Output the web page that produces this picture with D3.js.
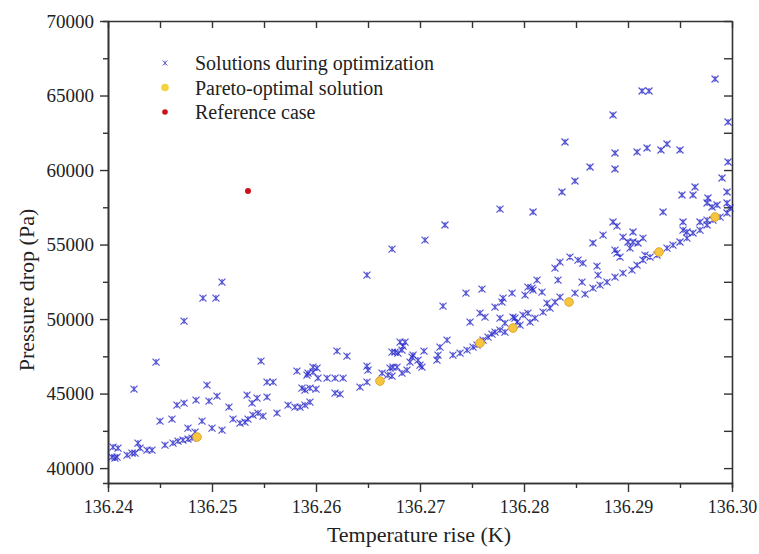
<!DOCTYPE html>
<html>
<head>
<meta charset="utf-8">
<script src="https://cdn.jsdelivr.net/npm/d3@7"></script>
<style>
  body { margin: 0; background: #fff; }
  svg text { font-family: "Liberation Serif", "Times New Roman", serif; fill: #222; }
</style>
</head>
<body>
<div id="chart"></div>
<script>
// Solutions during optimization (temperature rise K, pressure drop Pa)
const solTemp = [
  136.24038, 136.24067, 136.24087, 136.24048, 136.24096, 136.24183, 136.24231, 136.24260, 136.24288, 136.24308,
  136.24375, 136.24423, 136.24548, 136.24625, 136.24673, 136.24721, 136.24769, 136.24808,
  136.24250, 136.24462, 136.24731, 136.24913, 136.25038, 136.25096, 136.25471, 136.24952, 136.24500, 136.24615,
  136.24663, 136.24731, 136.24846, 136.24971, 136.25048, 136.24769, 136.24837, 136.24904, 136.25000, 136.25096,
  136.25163, 136.25202, 136.25269, 136.25317, 136.25346, 136.25337, 136.25385, 136.25433, 136.25529, 136.25529,
  136.25587, 136.25394, 136.25442, 136.25490, 136.25625, 136.25731, 136.25798, 136.25846, 136.25894, 136.25942,
  136.25894, 136.25942, 136.26000, 136.25817, 136.25923, 136.25971, 136.26010, 136.26019, 136.26106, 136.26183,
  136.26260, 136.26183, 136.26231, 136.25865, 136.26423, 136.26490, 136.26202, 136.26298, 136.26490, 136.26500,
  136.25913, 136.25971,
  136.26490, 136.26731, 136.27048, 136.27240, 136.26635, 136.26692, 136.26712, 136.26740, 136.26731, 136.26779,
  136.26827, 136.26875, 136.26731, 136.26760, 136.26788, 136.26808, 136.26837, 136.26827, 136.26856, 136.26923,
  136.26933, 136.26981, 136.26904, 136.27000, 136.27019, 136.27038, 136.27173, 136.27163, 136.27192, 136.27260,
  136.27221, 136.27317, 136.27385, 136.27452, 136.27510, 136.27548,
  136.27442, 136.27596, 136.27577, 136.27625, 136.27481, 136.27721, 136.27798, 136.27885, 136.27769, 136.27788,
  136.27894, 136.27933, 136.27606, 136.27654, 136.27692, 136.27721, 136.27769, 136.27817, 136.27913, 136.28010,
  136.28077, 136.28125, 136.28173, 136.28038, 136.28087, 136.28038, 136.28106, 136.27990, 136.28058, 136.28183,
  136.28221, 136.28250, 136.28298, 136.28346, 136.27817, 136.27962,
  136.29837, 136.29135, 136.29202, 136.28856, 136.28394, 136.28875, 136.29087, 136.29183, 136.29317, 136.29375,
  136.29500, 136.29962, 136.29962, 136.28635, 136.28875, 136.28490, 136.28365, 136.27769, 136.28087, 136.29337,
  136.29519, 136.29625, 136.29644, 136.29904, 136.29952, 136.29769, 136.29760, 136.29808, 136.29856, 136.29952,
  136.28856, 136.28894, 136.28760, 136.29048, 136.28952, 136.29000, 136.29048, 136.29096, 136.29144, 136.29019,
  136.29529, 136.29529, 136.29567, 136.29692, 136.29760, 136.28663, 136.28875, 136.28923, 136.28442, 136.28346,
  136.28298, 136.28519, 136.28567, 136.28702, 136.28712, 136.28327, 136.28558, 136.28894, 136.29163, 136.29212,
  136.28490, 136.28587,
  136.28663, 136.28731, 136.28798, 136.28875, 136.28952, 136.29038, 136.29087, 136.29144, 136.29279, 136.29375,
  136.29433, 136.29500, 136.29567, 136.29625, 136.29692, 136.29760, 136.29817, 136.29885, 136.29952, 136.29981
];
const solDp = [
  40740, 40673, 40740, 41411, 41344, 40874, 41008, 41008, 41680, 41344,
  41210, 41210, 41545, 41680, 41814, 41881, 41948, 42015,
  45304, 47115, 49867, 51411, 51411, 52484, 47183, 45572, 43156, 43290,
  44230, 44364, 44565, 44498, 44834, 42686, 42418, 43156, 42686, 42552,
  44096, 43290, 43022, 43089, 43290, 44901, 44364, 44700, 44767, 45773,
  45773, 43559, 43693, 43492, 43693, 44230, 44096, 44096, 44230, 44431,
  45236, 45371, 45304, 46511, 46377, 46780, 46713, 46042, 46042, 46042,
  46042, 45035, 44968, 45371, 45438, 45773, 47854, 47518, 46847, 46579,
  46243, 46444,
  52954, 54699, 55303, 56310, 46377, 46243, 46713, 46780, 46176, 46780,
  46377, 46579, 47787, 47787, 47719, 48458, 48189, 47921, 48458, 47451,
  47585, 47250, 47115, 46914, 46780, 47854, 47585, 47250, 48122, 48592,
  50874, 47585, 47719, 47921, 48122, 48256,
  51746, 52015, 50404, 50135, 49800, 50807, 51411, 51746, 50068, 51142,
  50135, 49800, 48592, 48793, 48995, 49129, 49263, 49129, 50068, 51612,
  52082, 52619, 51813, 52149, 51947, 50404, 50068, 50270, 49800, 50471,
  51075, 50739, 51142, 51478, 49733, 49599,
  66108, 65302, 65302, 63692, 61880, 61141, 61209, 61477, 61343, 61745,
  61343, 63222, 60537, 60202, 60068, 59262, 58524, 57383, 57182, 57182,
  58323, 58323, 58860, 59464, 58524, 58122, 57786, 57518, 57652, 57786,
  56511, 56242, 55638, 55840, 55504, 55169, 55169, 55102, 55437, 54766,
  56511, 55974, 55840, 56511, 56645, 55102, 54632, 54162, 54162, 53826,
  53424, 53961, 53759, 53558, 52954, 52619, 52484, 54430, 54296, 54162,
  51746, 51679,
  52082, 52283, 52484, 52820, 53088, 53290, 53625, 53961, 54296, 54766,
  54967, 55169, 55437, 55773, 55974, 56310, 56645, 56846, 57115, 57450
];

// Pareto-optimal solutions
const paretoTemp = [136.24856, 136.26615, 136.27577, 136.27894, 136.28433, 136.29298, 136.29837];
const paretoDp = [42082, 45840, 48390, 49398, 51142, 54498, 56847];

// Reference case
const refTemp = [136.25346];
const refDp = [58591];

const xTicks = [136.24, 136.25, 136.26, 136.27, 136.28, 136.29, 136.30];
const xMinor = [136.245, 136.255, 136.265, 136.275, 136.285, 136.295];
const yTicks = [40000, 45000, 50000, 55000, 60000, 65000, 70000];
const yMinor = [42500, 47500, 52500, 57500, 62500, 67500];

const legendLabels = ["Solutions during optimization", "Pareto-optimal solution", "Reference case"];

const serif = "'Liberation Serif', 'Times New Roman', serif";

const margin = { top: 21, right: 27, bottom: 71, left: 108 },
    width = 759 - margin.left - margin.right,
    height = 554 - margin.top - margin.bottom;

const svg = d3.select("#chart")
    .append("svg")
    .attr("width", 759)
    .attr("height", 554)
    .append("g")
    .attr("transform", "translate(" + margin.left + "," + margin.top + ")");

const x = d3.scaleLinear().domain([136.24, 136.30]).range([0, width]);
const y = d3.scaleLinear().domain([39000, 70000]).range([height, 0]);

// axes with outward ticks on bottom / left, inward ticks on top / right
function styleAxis(g) {
    g.attr("font-family", serif);
    g.select(".domain").attr("stroke", "#333").attr("stroke-width", 1.6);
    g.selectAll(".tick line").attr("stroke", "#333").attr("stroke-width", 1.4);
}

svg.append("g")
    .attr("transform", "translate(0," + height + ")")
    .call(d3.axisBottom(x).tickValues(xMinor).tickSize(5).tickFormat(""))
    .call(styleAxis);
svg.append("g")
    .attr("transform", "translate(0," + height + ")")
    .call(d3.axisBottom(x).tickValues(xTicks).tickSize(9).tickSizeOuter(0).tickPadding(8)
        .tickFormat(d3.format(".2f")))
    .call(styleAxis)
    .selectAll("text")
    .style("font-family", serif)
    .style("font-size", "18px")
    .attr("fill", "#222");

svg.append("g")
    .call(d3.axisLeft(y).tickValues(yMinor).tickSize(5).tickFormat(""))
    .call(styleAxis);
svg.append("g")
    .call(d3.axisLeft(y).tickValues(yTicks).tickSize(8).tickSizeOuter(0).tickPadding(6)
        .tickFormat(d3.format("d")))
    .call(styleAxis)
    .selectAll("text")
    .style("font-family", serif)
    .style("font-size", "19px")
    .attr("fill", "#222");

svg.append("g")
    .call(d3.axisBottom(x).tickValues(xTicks.concat(xMinor)).tickSize(7).tickSizeOuter(0).tickFormat(""))
    .call(styleAxis);
svg.append("g")
    .attr("transform", "translate(" + width + ",0)")
    .call(d3.axisRight(y).tickValues(yTicks.concat(yMinor)).tickSize(-8).tickSizeOuter(0).tickFormat(""))
    .call(styleAxis);

// Axis titles
svg.append("text")
    .attr("x", width / 2 - 1)
    .attr("y", height + 59)
    .attr("text-anchor", "middle")
    .style("font-size", "22px")
    .text("Temperature rise (K)");

svg.append("text")
    .attr("transform", "rotate(-90)")
    .attr("x", -(height / 2) - 38)
    .attr("y", -74)
    .attr("text-anchor", "middle")
    .style("font-size", "22px")
    .text("Pressure drop (Pa)");

// star marker: x cross with a vertical bar
const star = "M-3.5,-3.5L3.5,3.5M-3.5,3.5L3.5,-3.5M0,-3L0,3";

const sol = solTemp.map((t, i) => ({ t: t, p: solDp[i] }));
svg.selectAll(".sol")
    .data(sol)
    .enter()
    .append("path")
    .attr("class", "sol")
    .attr("d", star)
    .attr("transform", d => "translate(" + x(d.t) + "," + y(d.p) + ")")
    .attr("fill", "none")
    .attr("stroke", "#2626c8")
    .attr("stroke-width", 1.15)
    .attr("opacity", 0.8);

svg.selectAll(".pareto")
    .data(paretoTemp.map((t, i) => ({ t: t, p: paretoDp[i] })))
    .enter()
    .append("circle")
    .attr("cx", d => x(d.t))
    .attr("cy", d => y(d.p))
    .attr("r", 4.3)
    .attr("fill", "#f7c640")
    .attr("stroke", "#e3a52a")
    .attr("stroke-width", 1);

svg.selectAll(".ref")
    .data(refTemp.map((t, i) => ({ t: t, p: refDp[i] })))
    .enter()
    .append("circle")
    .attr("cx", d => x(d.t))
    .attr("cy", d => y(d.p))
    .attr("r", 3)
    .attr("fill", "#cc1118");

// Legend
const legend = svg.append("g").attr("transform", "translate(57,42)");
legendLabels.forEach((lab, i) => {
    const row = legend.append("g").attr("transform", "translate(0," + (i * 24.5) + ")");
    if (i === 0) {
        row.append("path").attr("d", "M-2.5,-2.5L2.5,2.5M-2.5,2.5L2.5,-2.5M0,-2.2L0,2.2")
            .attr("fill", "none").attr("stroke", "#6a6ad8").attr("stroke-width", 1);
    } else if (i === 1) {
        row.append("circle").attr("r", 3.8).attr("fill", "#f2d43a");
    } else {
        row.append("circle").attr("r", 2.8).attr("fill", "#cc1118");
    }
    row.append("text")
        .attr("x", 30)
        .attr("y", 7)
        .style("font-size", "20px")
        .text(lab);
});
</script>
</body>
</html>
